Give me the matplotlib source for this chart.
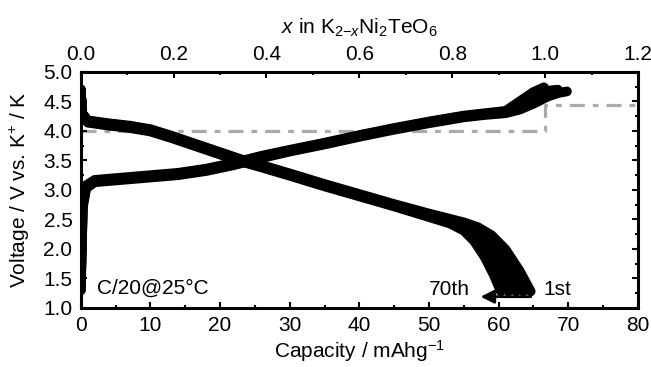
import matplotlib
matplotlib.use("Agg")
import matplotlib.pyplot as plt
from matplotlib.ticker import MultipleLocator

plt.rcParams["font.family"] = ["Liberation Sans", "DejaVu Sans"]
plt.rcParams["mathtext.fontset"] = "custom"
plt.rcParams["mathtext.rm"] = "Liberation Sans"
plt.rcParams["mathtext.it"] = "Liberation Sans:italic"

# =========================
# DATA
# =========================
charge_1_cap = [0.0, 0.3, 0.8, 2, 6, 10, 14, 18, 22, 26, 30, 35, 40, 45, 50, 55, 58, 61, 63, 65, 66.5]
charge_1_v = [1.3, 2.8, 3.08, 3.17, 3.21, 3.25, 3.29, 3.36, 3.46, 3.58, 3.68, 3.8, 3.93, 4.05, 4.16, 4.26, 4.3, 4.34, 4.5, 4.66, 4.74]

charge_35_cap = [0.0, 0.3, 0.8, 2, 6, 10, 14, 18, 22, 26, 30, 35, 40, 45, 50, 55, 58, 61, 63, 65, 67, 68.5]
charge_35_v = [1.3, 2.75, 3.06, 3.15, 3.19, 3.23, 3.27, 3.34, 3.44, 3.56, 3.67, 3.79, 3.92, 4.04, 4.15, 4.25, 4.29, 4.32, 4.42, 4.56, 4.68, 4.7]

charge_70_cap = [0.0, 0.3, 0.8, 2, 6, 10, 14, 18, 22, 26, 30, 35, 40, 45, 50, 55, 58, 61, 63, 65, 67, 68.5, 69.8]
charge_70_v = [1.3, 2.7, 3.03, 3.13, 3.17, 3.21, 3.25, 3.32, 3.42, 3.54, 3.65, 3.77, 3.9, 4.02, 4.13, 4.23, 4.27, 4.3, 4.36, 4.46, 4.58, 4.64, 4.67]

dis_1_cap = [0.0, 0.2, 1, 4, 7, 10, 13, 16, 20, 23, 26, 30, 35, 40, 45, 50, 53, 55, 57, 59, 61, 63, 64.6]
dis_1_v = [4.7, 4.3, 4.18, 4.13, 4.09, 4.03, 3.92, 3.8, 3.64, 3.52, 3.42, 3.28, 3.1, 2.93, 2.76, 2.6, 2.51, 2.45, 2.37, 2.23, 1.99, 1.63, 1.28]

dis_20_cap = [0.0, 0.2, 1, 4, 7, 10, 13, 16, 20, 23, 26, 30, 35, 40, 45, 50, 53, 55, 57, 59, 61, 63.5]
dis_20_v = [4.7, 4.3, 4.17, 4.12, 4.08, 4.02, 3.91, 3.79, 3.63, 3.51, 3.41, 3.27, 3.09, 2.92, 2.75, 2.58, 2.49, 2.42, 2.31, 2.1, 1.82, 1.28]

dis_35_cap = [0.0, 0.2, 1, 4, 7, 10, 13, 16, 20, 23, 26, 30, 35, 40, 45, 50, 53, 55, 57, 59, 61, 62.5]
dis_35_v = [4.7, 4.3, 4.16, 4.11, 4.07, 4.01, 3.9, 3.78, 3.62, 3.5, 3.4, 3.26, 3.08, 2.91, 2.74, 2.57, 2.47, 2.39, 2.23, 1.96, 1.61, 1.28]

dis_50_cap = [0.0, 0.2, 1, 4, 7, 10, 13, 16, 20, 23, 26, 30, 35, 40, 45, 50, 53, 55, 57, 59, 61.4]
dis_50_v = [4.7, 4.3, 4.15, 4.1, 4.06, 4.0, 3.89, 3.77, 3.61, 3.49, 3.39, 3.25, 3.07, 2.9, 2.73, 2.55, 2.45, 2.35, 2.15, 1.82, 1.28]

dis_70_cap = [0.0, 0.2, 1, 4, 7, 10, 13, 16, 20, 23, 26, 30, 35, 40, 45, 50, 53, 55, 56.5, 58, 59.3, 60.3]
dis_70_v = [4.7, 4.3, 4.14, 4.09, 4.05, 3.99, 3.88, 3.76, 3.6, 3.48, 3.38, 3.24, 3.06, 2.89, 2.72, 2.54, 2.43, 2.31, 2.13, 1.86, 1.56, 1.28]

theo_cap = [0, 66.7, 66.7, 80]
theo_v = [4.0, 4.0, 4.44, 4.44]

# =========================
# PLOT
# =========================
fig = plt.figure(figsize=(6.51, 3.67), dpi=100)
ax = fig.add_axes([0.124, 0.161, 0.856, 0.643])

ax.plot(theo_cap, theo_v, color="#aaaaaa", lw=2.3, ls=(0, (4.7, 2.5, 1.8, 2.5)), zorder=1)

charges = [(charge_1_cap, charge_1_v), (charge_35_cap, charge_35_v), (charge_70_cap, charge_70_v)]
discharges = [(dis_1_cap, dis_1_v), (dis_20_cap, dis_20_v), (dis_35_cap, dis_35_v),
              (dis_50_cap, dis_50_v), (dis_70_cap, dis_70_v)]
for cap, v in charges + discharges:
    ax.plot(cap, v, color="black", lw=7, solid_capstyle="round", solid_joinstyle="round", zorder=2)

ax.annotate("", xy=(57.0, 1.19), xytext=(65, 1.19),
            arrowprops=dict(arrowstyle="-|>", color="black", lw=2, mutation_scale=20))
ax.text(55.9, 1.32, "70th", fontsize=15, ha="right", va="center")
ax.text(66.4, 1.32, "1st", fontsize=15, ha="left", va="center")
ax.text(2.3, 1.34, "C/20@25°C", fontsize=15, ha="left", va="center")

ax.set_xlim(0, 80)
ax.set_ylim(1.0, 5.0)
ax.xaxis.set_major_locator(MultipleLocator(10))
ax.xaxis.set_minor_locator(MultipleLocator(5))
ax.yaxis.set_major_locator(MultipleLocator(0.5))
ax.yaxis.set_minor_locator(MultipleLocator(0.25))
ax.yaxis.set_major_formatter(plt.FuncFormatter(lambda v, p: f"{v:.1f}"))
ax.tick_params(which="both", direction="in", right=True, labelsize=15, width=1.5)
ax.tick_params(axis="y", pad=6)
ax.tick_params(axis="x", pad=6)
ax.tick_params(which="major", length=4)
ax.tick_params(which="minor", length=2.5)
for s in ax.spines.values():
    s.set_linewidth(2.2)

ax.set_xlabel("Capacity / mAhg$^{-1}$", fontsize=15, labelpad=2)
ax.set_ylabel("Voltage / V vs. K$^{+}$ / K", fontsize=15, labelpad=8)

ax2 = ax.twiny()
ax2.set_xlim(0, 1.2)
ax2.xaxis.set_major_locator(MultipleLocator(0.2))
ax2.xaxis.set_minor_locator(MultipleLocator(0.1))
ax2.xaxis.set_major_formatter(plt.FuncFormatter(lambda v, p: f"{v:.1f}"))
ax2.tick_params(which="both", direction="in", labelsize=15, width=1.5, pad=6)
ax2.tick_params(which="major", length=4)
ax2.tick_params(which="minor", length=2.5)
ax2.set_xlabel(r"$x$ in K$_{2\mathrm{-}x}$Ni$_2$TeO$_6$", fontsize=15, labelpad=8)

fig.savefig("out.png", dpi=100)
